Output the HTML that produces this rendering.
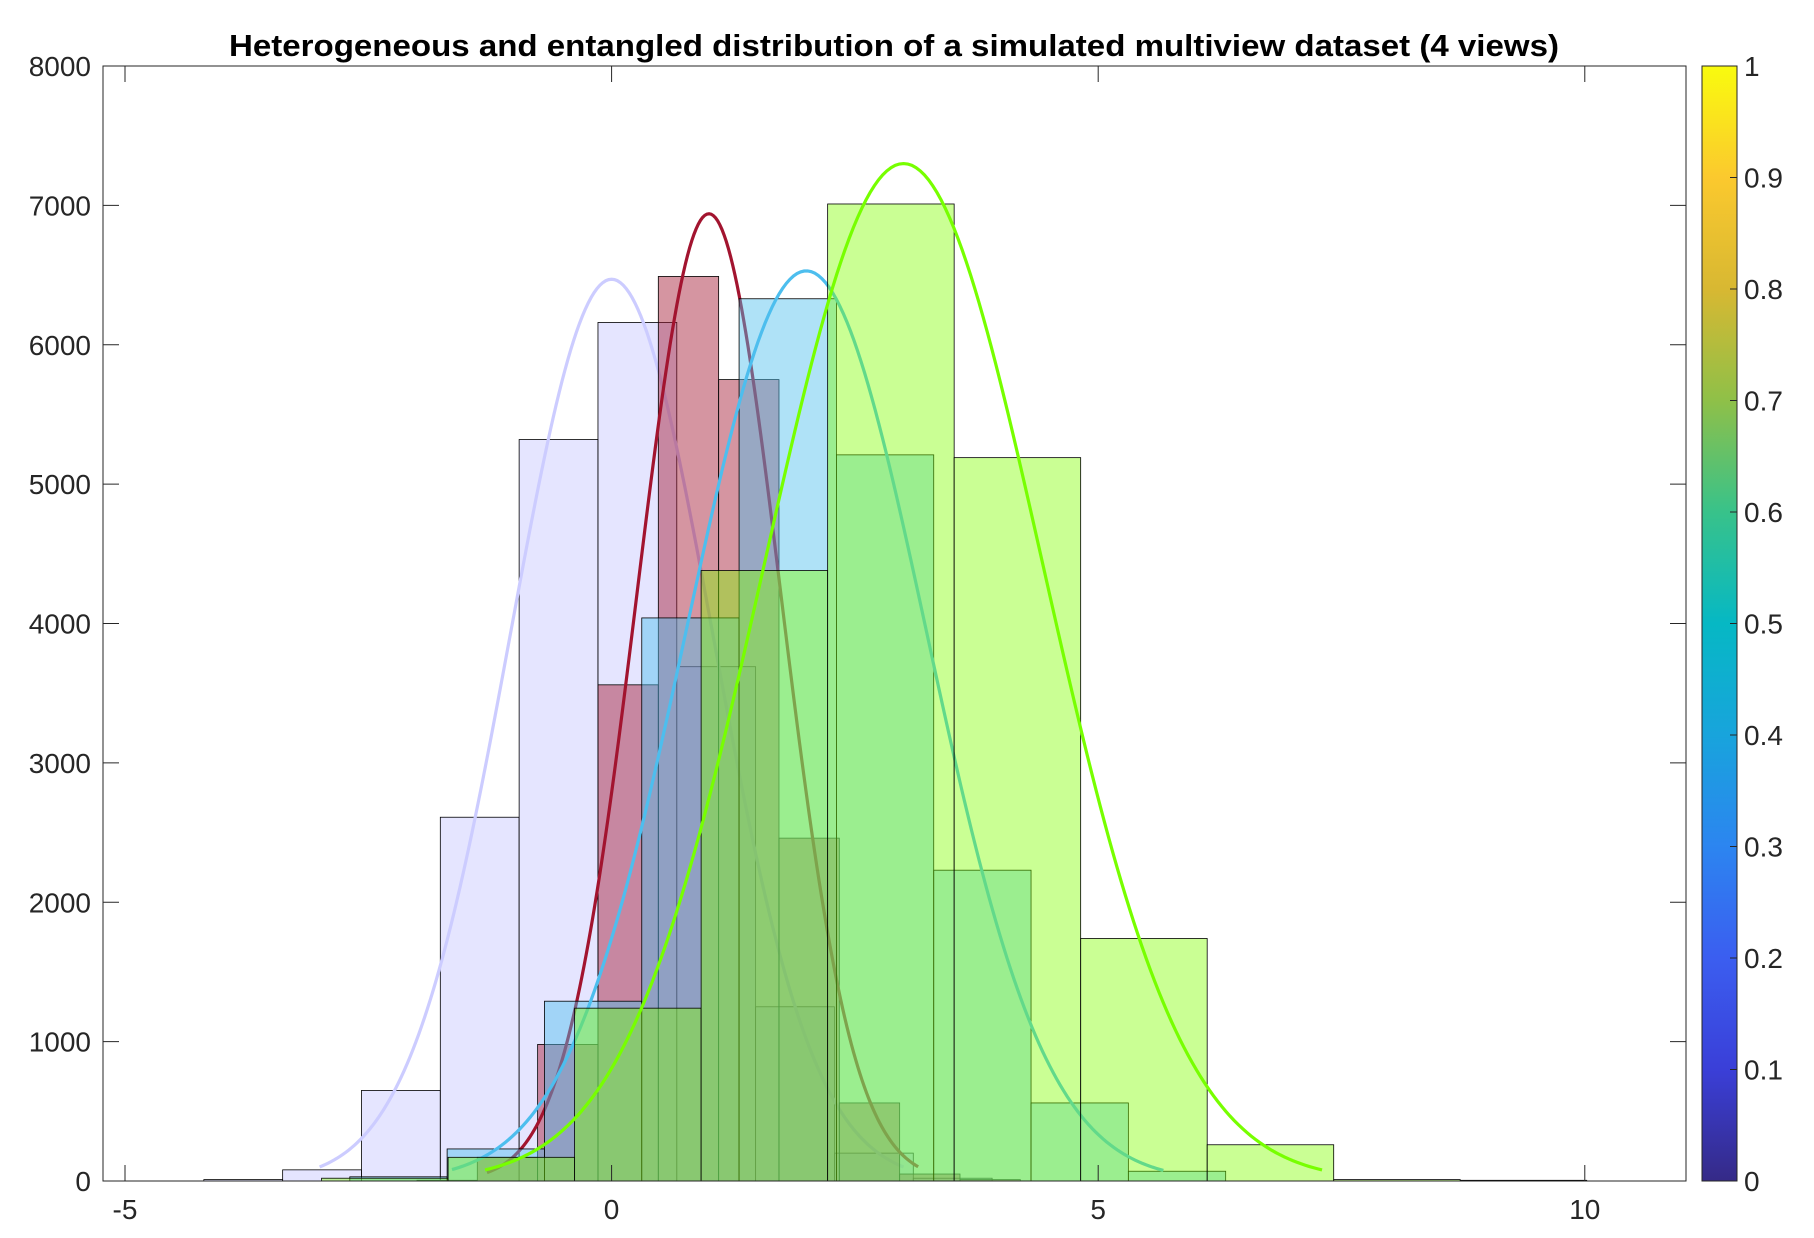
<!DOCTYPE html>
<html><head><meta charset="utf-8"><style>
body{margin:0;background:#fff;}
svg{display:block;font-family:"Liberation Sans",Arial,sans-serif;}
</style></head><body>
<svg id="chart" width="1814" height="1238" viewBox="0 0 1814 1238" xmlns="http://www.w3.org/2000/svg">
<defs>
<linearGradient id="parula" x1="0" y1="1" x2="0" y2="0">
<stop offset="0" stop-color="#352a87"/><stop offset="0.1" stop-color="#3a3fd8"/><stop offset="0.2" stop-color="#3b5ef0"/>
<stop offset="0.3" stop-color="#2c85f0"/><stop offset="0.4" stop-color="#18a4dc"/><stop offset="0.5" stop-color="#06b8c4"/>
<stop offset="0.6" stop-color="#38c28a"/><stop offset="0.7" stop-color="#8fc048"/><stop offset="0.8" stop-color="#d8b832"/>
<stop offset="0.9" stop-color="#fbc92e"/><stop offset="1" stop-color="#f9fb0e"/>
</linearGradient>
</defs>
<rect x="103" y="66" width="1583" height="1115" fill="#fff" stroke="none"/>
<g id="marks"></g>
<g id="axes"></g>
<text x="894" y="56" text-anchor="middle" font-size="31" font-weight="bold" fill="#000" textLength="1330" lengthAdjust="spacingAndGlyphs">Heterogeneous and entangled distribution of a simulated multiview dataset (4 views)</text>
<rect x="1702" y="66" width="35" height="1115" fill="url(#parula)" stroke="#262626" stroke-width="1"/>
<g id="cbar"></g>
</svg>
<script>
const xTicks=[-5,0,5,10];
const yTicks=[0,1000,2000,3000,4000,5000,6000,7000,8000];
const cbTicks=[0,0.1,0.2,0.3,0.4,0.5,0.6,0.7,0.8,0.9,1];
const lavStart=-4.19, lavWidth=0.81;
const lavCounts=[10,80,650,2610,5320,6160,3690,1250,200,20];
const redStart=-2.0, redWidth=0.62;
const redCounts=[5,170,980,3560,6490,5750,2460,560,50,10];
const blueStart=-2.69, blueWidth=1.0;
const blueCounts=[30,230,1290,4040,6330,5210,2230,560,70];
const limeStart=-2.98, limeWidth=1.3;
const limeCounts=[20,170,1240,4380,7010,5190,1740,260,10,5];
const curveMeans=[0,1.0,2.0,3.0];
const curveSDs=[1.04,0.74,1.23,1.43];
const curvePeaks=[6470,6940,6530,7300];
const curveFrom=[-3.0,-1.28,-1.64,-1.3];
const curveTo=[3.0,3.15,5.67,7.3];

const X0=103,X1=1686,Y0=1181,Y1=66;
const xMin=-5.226,xMax=11.04,yMax=8000;
function xs(v){return X0+(v-xMin)/(xMax-xMin)*(X1-X0);}
function ys(v){return Y0-v/yMax*(Y0-Y1);}
const NS="http://www.w3.org/2000/svg";
const marks=document.getElementById('marks');
function hist(start,width,counts,color,op,name){
  const g=document.createElementNS(NS,'g');
  
  
  counts.forEach((c,i)=>{
    const r=document.createElementNS(NS,'rect');
    const a=xs(start+i*width),b=xs(start+(i+1)*width);
    r.setAttribute('x',a);r.setAttribute('width',b-a);
    r.setAttribute('y',ys(c));r.setAttribute('height',ys(0)-ys(c));
    r.setAttribute('fill',color);r.setAttribute('fill-opacity',op);
    r.setAttribute('stroke','#000');r.setAttribute('stroke-width','0.8');
    
    
    g.appendChild(r);
  });
  marks.appendChild(g);
}
function curve(k,color,name){
  let d='';
  const n=200;
  for(let i=0;i<=n;i++){
    const v=curveFrom[k]+(curveTo[k]-curveFrom[k])*i/n;
    const y=curvePeaks[k]*Math.exp(-Math.pow(v-curveMeans[k],2)/(2*curveSDs[k]*curveSDs[k]));
    d+=(i?'L':'M')+xs(v).toFixed(2)+' '+ys(y).toFixed(2);
  }
  const p=document.createElementNS(NS,'path');
  p.setAttribute('d',d);p.setAttribute('fill','none');
  p.setAttribute('stroke',color);p.setAttribute('stroke-width','3.2');
  
  
  marks.appendChild(p);
}
hist(lavStart,lavWidth,lavCounts,'#ccccff',0.5,'view1-histogram');
curve(0,'#ccccff','view1-density-curve');
hist(redStart,redWidth,redCounts,'#a2142f',0.45,'view2-histogram');
curve(1,'#a2142f','view2-density-curve');
hist(blueStart,blueWidth,blueCounts,'#4dbeee',0.45,'view3-histogram');
curve(2,'#4dbeee','view3-density-curve');
hist(limeStart,limeWidth,limeCounts,'#80ff00',0.42,'view4-histogram');
curve(3,'#77ff00','view4-density-curve');

const axes=document.getElementById('axes');
const frame=document.createElementNS(NS,'rect');
frame.setAttribute('x',X0);frame.setAttribute('y',Y1);frame.setAttribute('width',X1-X0);frame.setAttribute('height',Y0-Y1);
frame.setAttribute('fill','none');frame.setAttribute('stroke','#262626');frame.setAttribute('stroke-width','1');


axes.appendChild(frame);
function line(x1,y1,x2,y2,nm){
  const l=document.createElementNS(NS,'line');
  l.setAttribute('x1',x1);l.setAttribute('y1',y1);l.setAttribute('x2',x2);l.setAttribute('y2',y2);
  l.setAttribute('stroke','#262626');l.setAttribute('stroke-width','1');
  
  
  axes.appendChild(l);
}
function text(x,y,s,anchor,nm,parent){
  const t=document.createElementNS(NS,'text');
  t.setAttribute('x',x);t.setAttribute('y',y);t.setAttribute('text-anchor',anchor);
  t.setAttribute('font-size','28');t.setAttribute('fill','#262626');
  t.textContent=s;
  
  
  (parent||axes).appendChild(t);
}
xTicks.forEach(v=>{
  const x=xs(v);
  line(x,Y0,x,Y0-16,'x-tick');line(x,Y1,x,Y1+16,'x-tick-top');
  text(x,Y0+38,String(v),'middle','x-tick-label');
});
yTicks.forEach(v=>{
  const y=ys(v);
  line(X0,y,X0+16,y,'y-tick');line(X1,y,X1-16,y,'y-tick-right');
  text(X0-12,y+10,String(v),'end','y-tick-label');
});
const cb=document.getElementById('cbar');
cbTicks.forEach(v=>{
  const y=Y0-v*(Y0-Y1);
  const l=document.createElementNS(NS,'line');
  l.setAttribute('x1',1737);l.setAttribute('x2',1730);l.setAttribute('y1',y);l.setAttribute('y2',y);
  l.setAttribute('stroke','#262626');
  
  
  cb.appendChild(l);
  text(1744,y+10,String(v),'start','colorbar-tick-label',cb);
});
</script>
</body></html>
